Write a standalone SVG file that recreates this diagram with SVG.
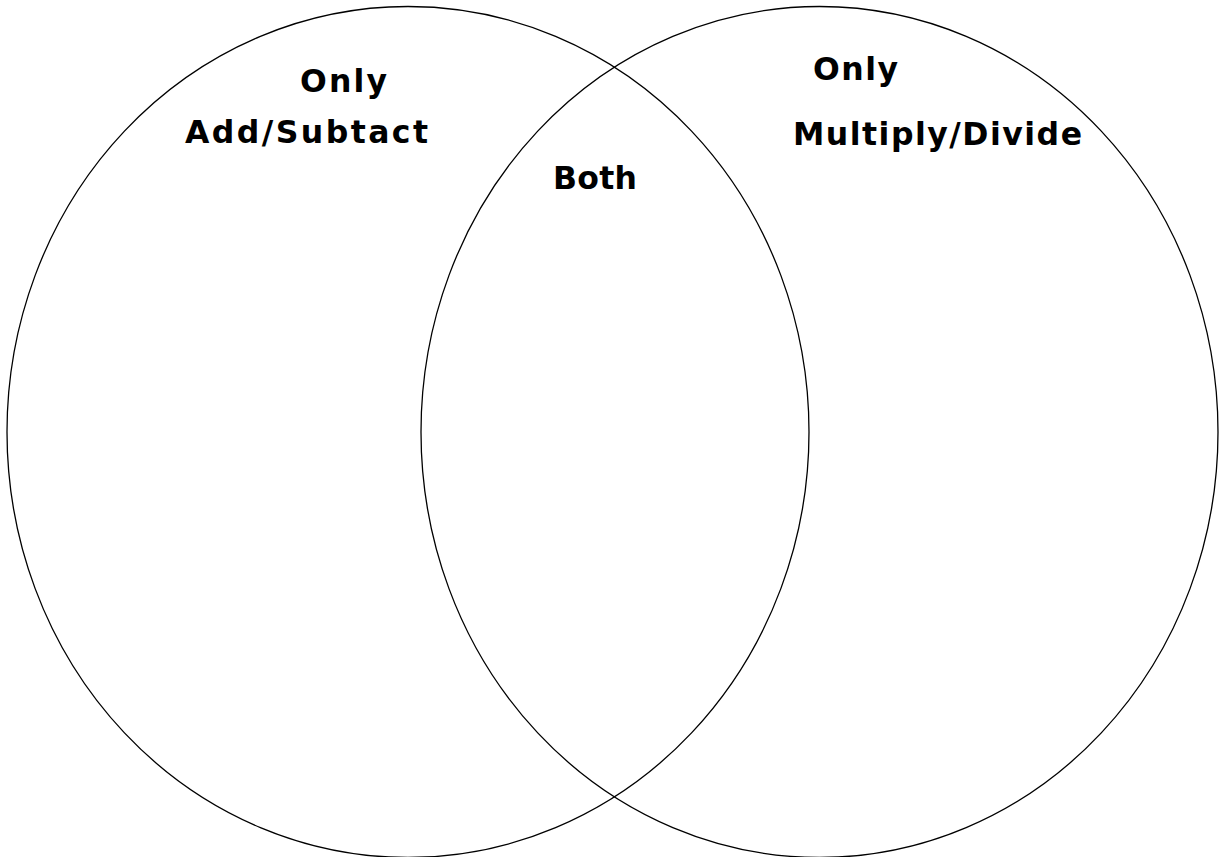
<svg xmlns="http://www.w3.org/2000/svg" width="1220" height="857" viewBox="0 0 1220 857">
<style>
.c{fill:none;stroke:#000;stroke-width:1.3}
.t{font-family:"DejaVu Sans","Verdana",sans-serif;font-weight:bold;font-size:31.5px;fill:#000}
</style>
<rect width="1220" height="857" fill="#fff"/>
<g id="left-set">
<ellipse class="c" cx="408" cy="432" rx="401" ry="425.5"/>
<text class="t" x="300" y="92" textLength="87" lengthAdjust="spacing">Only</text>
<text class="t" x="185" y="143" textLength="243" lengthAdjust="spacing">Add/Subtact</text>
</g>
<g id="right-set">
<ellipse class="c" cx="819.5" cy="432" rx="398.5" ry="425.5"/>
<text class="t" x="813" y="80" textLength="85" lengthAdjust="spacing">Only</text>
<text class="t" x="793" y="145" textLength="289" lengthAdjust="spacing">Multiply/Divide</text>
</g>
<g id="intersection">
<text class="t" x="553" y="189" textLength="84" lengthAdjust="spacing">Both</text>
</g>
</svg>
